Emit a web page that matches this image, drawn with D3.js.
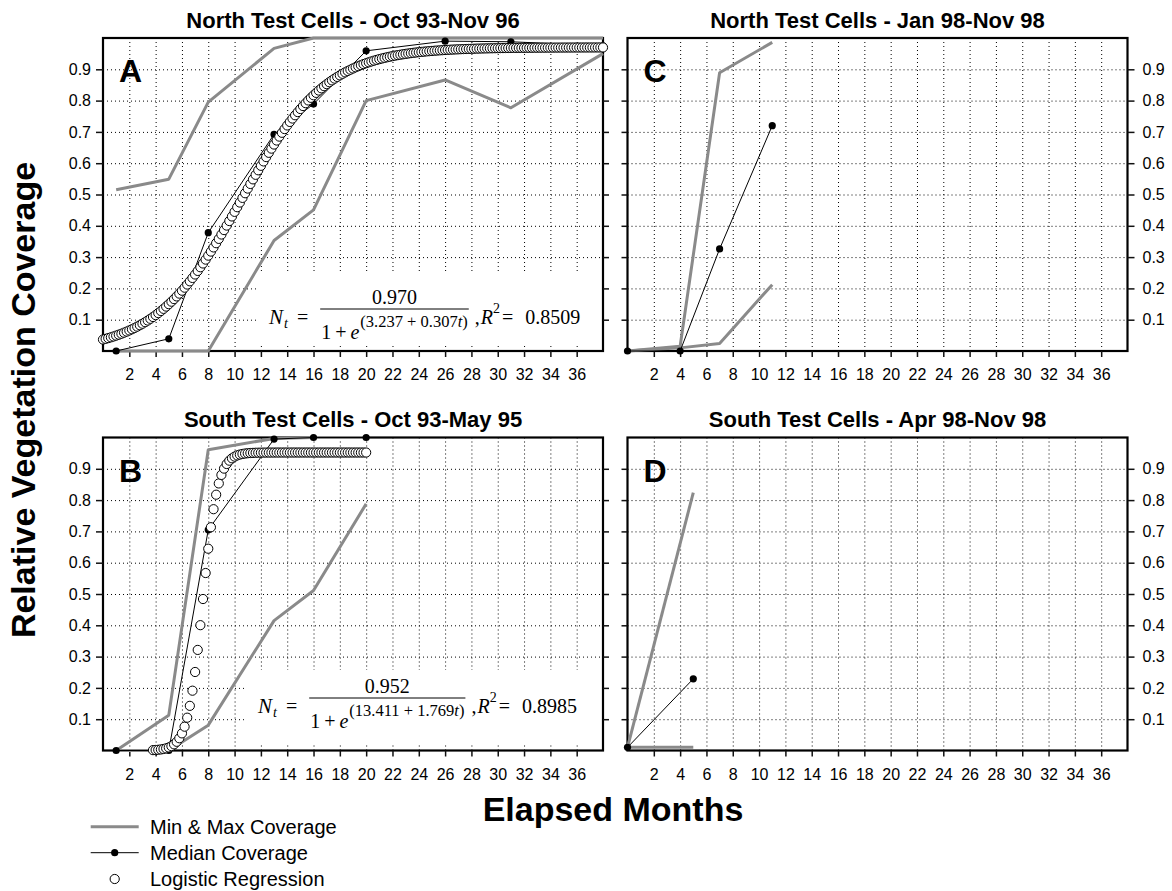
<!DOCTYPE html>
<html>
<head>
<meta charset="utf-8">
<script src="https://cdn.jsdelivr.net/npm/d3@7"></script>
<style>
  html, body { margin: 0; padding: 0; background: #fff; }
  svg { display: block; }
</style>
</head>
<body>
<svg id="chart" width="1172" height="891"></svg>
<script>
// ---------------------------------------------------------------
// Data
// ---------------------------------------------------------------
const monthTicks = [2, 4, 6, 8, 10, 12, 14, 16, 18, 20, 22, 24, 26, 28, 30, 32, 34, 36];
const coverageTicks = [0.1, 0.2, 0.3, 0.4, 0.5, 0.6, 0.7, 0.8, 0.9];
const monthDomain = [0, 38];

// A: North test cells, Oct 93 - Nov 96
const northEarlyMonths = [1, 5, 8, 13, 16, 20, 26, 31, 38];
const northEarlyMin    = [0, 0, 0, 0.353, 0.451, 0.80, 0.866, 0.777, 0.95];
const northEarlyMax    = [0.515, 0.549, 0.795, 0.967, 1.0, 1.0, 1.0, 1.0, 1.0];
const northEarlyMedian = [0, 0.039, 0.378, 0.692, 0.789, 0.959, 0.99, 0.988, 0.975];

// B: South test cells, Oct 93 - May 95
const southEarlyMonths = [1, 5, 8, 13, 16, 20];
const southEarlyMin    = [0, 0, 0.081, 0.415, 0.511, 0.788];
const southEarlyMax    = [0, 0.113, 0.961, 0.997, 1.0, 1.0];
const southEarlyMedian = [0, 0, 0.705, 0.995, 1.0, 1.0];

// C: North test cells, Jan 98 - Nov 98
const northLateMonths = [0, 4, 7, 11];
const northLateMin    = [0, 0.01, 0.024, 0.212];
const northLateMax    = [0, 0.015, 0.889, 0.986];
const northLateMedian = [0, 0, 0.326, 0.72];

// D: South test cells, Apr 98 - Nov 98
const southLateMonths = [0, 5];
const southLateMin    = [0.01, 0.01];
const southLateMax    = [0.01, 0.824];
const southLateMedian = [0.01, 0.229];

// Logistic fits  N_t = K / (1 + e^(a - b t)), printed as in the source paper
const northFitCoef  = ["0.970", "3.237", "0.307"];   // K, a, b
const northFitR2    = "0.8509";
const northFitRange = [0, 38];
const southFitCoef  = ["0.952", "13.411", "1.769"];
const southFitR2    = "0.8985";
const southFitRange = [3.8, 20];
const fitStep = 0.2;

// ---------------------------------------------------------------
// Styling / layout
// ---------------------------------------------------------------
const SANS  = "'Liberation Sans', Arial, Helvetica, sans-serif";
const SERIF = "'Liberation Serif', 'Times New Roman', Times, serif";
const GREY  = "#8a8a8a";
const PW = 500, PH = 313;

const panels = [
  { letter: "A", title: "North Test Cells - Oct 93-Nov 96", left: 103,   top: 38,
    months: northEarlyMonths, min: northEarlyMin, max: northEarlyMax, median: northEarlyMedian,
    fit: { coef: northFitCoef, r2: northFitR2, range: northFitRange,
           box: [155, 234, 305], at: [166, 286] }, labels: "left" },
  { letter: "C", title: "North Test Cells - Jan 98-Nov 98", left: 627.5, top: 38,
    months: northLateMonths, min: northLateMin, max: northLateMax, median: northLateMedian,
    fit: null, labels: "right" },
  { letter: "B", title: "South Test Cells - Oct 93-May 95", left: 103,   top: 437.5,
    months: southEarlyMonths, min: southEarlyMin, max: southEarlyMax, median: southEarlyMedian,
    fit: { coef: southFitCoef, r2: southFitR2, range: southFitRange,
           box: [141, 232.5, 307.5], at: [155, 275.5] }, labels: "left" },
  { letter: "D", title: "South Test Cells - Apr 98-Nov 98", left: 627.5, top: 437.5,
    months: southLateMonths, min: southLateMin, max: southLateMax, median: southLateMedian,
    fit: null, labels: "right" }
];

const svg = d3.select("#chart");
svg.append("rect").attr("width", 1172).attr("height", 891).attr("fill", "#fff");

function addAxis(g, axis, tx, ty, style) {
  const a = g.append("g").attr("transform", `translate(${tx},${ty})`).call(axis);
  a.select(".domain").remove();
  a.selectAll("line")
    .attr("stroke", style.color)
    .attr("stroke-width", style.width)
    .attr("stroke-dasharray", style.dash || null);
  a.selectAll("text")
    .attr("font-family", SANS)
    .attr("font-size", 16)
    .attr("fill", "#000");
  return a;
}

// appends a positioned tspan and returns its advance width
function span(t, str, px, py, size, italic) {
  const s = t.append("tspan")
    .attr("x", px).attr("y", py)
    .attr("font-size", size)
    .attr("font-style", italic ? "italic" : "normal")
    .text(str);
  return s.node().getComputedTextLength();
}

// Typesets  N_t = K / (1 + e^(a + bt)) ,R^2 = r2
function drawFormula(g, x0, b, coef, r2) {
  const f = g.append("g").attr("font-family", SERIF).attr("fill", "#000");

  const lhs = f.append("text");
  let cx = x0;
  cx += span(lhs, "N", cx, b, 21, true) + 1;
  cx += span(lhs, "t", cx, b + 4, 14, true) + 9;
  cx += span(lhs, "=", cx, b, 20, false) + 12;

  // denominator: 1 + e^(a + b t)
  const barX = cx;
  const den = f.append("text");
  let dx = barX + 1;
  dx += span(den, "1", dx, b + 15, 20, false) + 4;
  dx += span(den, "+", dx, b + 15, 20, false) + 4;
  dx += span(den, "e", dx, b + 15, 20, true) + 1;
  dx += span(den, `(${coef[1]} + ${coef[2]}`, dx, b + 3, 16.5, false);
  dx += span(den, "t", dx, b + 3, 16.5, true);
  dx += span(den, ")", dx, b + 3, 16.5, false);
  const barEnd = dx + 1;

  f.append("text")
    .attr("x", (barX + barEnd) / 2).attr("y", b - 20)
    .attr("text-anchor", "middle").attr("font-size", 20)
    .text(coef[0]);
  f.append("line")
    .attr("x1", barX).attr("x2", barEnd)
    .attr("y1", b - 15).attr("y2", b - 15)
    .attr("stroke", "#000").attr("stroke-width", 1);

  // ,R^2 = value
  const rhs = f.append("text");
  cx = barEnd + 6;
  cx += span(rhs, ",", cx, b, 20, false) + 1;
  cx += span(rhs, "R", cx, b, 20, true);
  cx += span(rhs, "2", cx, b - 11, 14, false) + 2;
  cx += span(rhs, "=", cx, b, 20, false) + 12;
  span(rhs, r2, cx, b, 20, false);
}

panels.forEach(p => {
  const g = svg.append("g").attr("transform", `translate(${p.left},${p.top})`);
  const x = d3.scaleLinear().domain(monthDomain).range([0, PW]);
  const y = d3.scaleLinear().domain([0, 1]).range([PH, 0]);

  // dotted grid
  const dotted = { color: "#000", width: 1, dash: "1,3" };
  addAxis(g, d3.axisBottom(x).tickValues(monthTicks).tickSize(PH).tickFormat(""), 0, 0, dotted);
  addAxis(g, d3.axisRight(y).tickValues(coverageTicks).tickSize(PW).tickFormat(""), 0, 0, dotted);

  // white panel behind the regression equation
  if (p.fit) {
    g.append("rect")
      .attr("x", p.fit.box[0]).attr("y", p.fit.box[1])
      .attr("width", PW - p.fit.box[0]).attr("height", p.fit.box[2] - p.fit.box[1])
      .attr("fill", "#fff");
  }

  // frame
  g.append("rect").attr("width", PW).attr("height", PH)
    .attr("fill", "none").attr("stroke", "#000").attr("stroke-width", 2.2);

  // ticks and labels
  const tickStyle = { color: "#111", width: 1.5 };
  const fmt = d3.format(".1f");
  addAxis(g, d3.axisBottom(x).tickValues(monthTicks).tickSize(6).tickPadding(12), 0, PH, tickStyle);
  if (p.labels === "left") {
    addAxis(g, d3.axisLeft(y).tickValues(coverageTicks).tickSize(7).tickPadding(5).tickFormat(fmt), 0, 0, tickStyle);
    addAxis(g, d3.axisRight(y).tickValues(coverageTicks).tickSize(6).tickFormat(""), PW, 0, tickStyle);
  } else {
    addAxis(g, d3.axisLeft(y).tickValues(coverageTicks).tickSize(6).tickFormat(""), 0, 0, tickStyle);
    addAxis(g, d3.axisRight(y).tickValues(coverageTicks).tickSize(7).tickPadding(8).tickFormat(fmt), PW, 0, tickStyle);
  }

  const line = d3.line().x(d => x(d[0])).y(d => y(d[1]));

  // minimum and maximum coverage
  [p.min, p.max].forEach(vals => {
    g.append("path").datum(d3.zip(p.months, vals))
      .attr("d", line).attr("fill", "none")
      .attr("stroke", GREY).attr("stroke-width", 3).attr("stroke-linejoin", "round");
  });

  // median coverage
  const med = d3.zip(p.months, p.median);
  g.append("path").datum(med).attr("d", line)
    .attr("fill", "none").attr("stroke", "#000").attr("stroke-width", 1);
  g.selectAll("circle.median").data(med).join("circle")
    .attr("class", "median")
    .attr("cx", d => x(d[0])).attr("cy", d => y(d[1])).attr("r", 3.6)
    .attr("fill", "#000");

  // logistic regression curve
  if (p.fit) {
    const K = +p.fit.coef[0], a = +p.fit.coef[1], b = +p.fit.coef[2];
    const [t0, t1] = p.fit.range;
    const n = Math.round((t1 - t0) / fitStep) + 1;
    const pts = d3.range(n).map(i => {
      const t = t0 + i * fitStep;
      return [t, K / (1 + Math.exp(a - b * t))];
    });
    g.selectAll("circle.fit").data(pts).join("circle")
      .attr("class", "fit")
      .attr("cx", d => x(d[0])).attr("cy", d => y(d[1])).attr("r", 4.6)
      .attr("fill", "#fff").attr("stroke", "#000").attr("stroke-width", 1);

    drawFormula(g, p.fit.at[0], p.fit.at[1], p.fit.coef, p.fit.r2);
  }

  // panel letter and title
  g.append("text").attr("x", 16).attr("y", 44)
    .attr("font-family", SANS).attr("font-weight", "bold").attr("font-size", 32)
    .text(p.letter);
  g.append("text").attr("x", PW / 2).attr("y", -10.5)
    .attr("text-anchor", "middle")
    .attr("font-family", SANS).attr("font-weight", "bold").attr("font-size", 22)
    .text(p.title);
});

// shared axis titles
svg.append("text")
  .attr("transform", "translate(35,400) rotate(-90)")
  .attr("text-anchor", "middle")
  .attr("font-family", SANS).attr("font-weight", "bold").attr("font-size", 34)
  .text("Relative Vegetation Coverage");
svg.append("text")
  .attr("x", 613).attr("y", 821)
  .attr("text-anchor", "middle")
  .attr("font-family", SANS).attr("font-weight", "bold").attr("font-size", 34)
  .text("Elapsed Months");

// legend
const legendItems = ["Min & Max Coverage", "Median Coverage", "Logistic Regression"];
const legendRows = [826.7, 852.7, 879];
const lg = svg.append("g");
legendItems.forEach((label, i) => {
  const ly = legendRows[i];
  if (i === 0) {
    lg.append("line").attr("x1", 90.7).attr("x2", 138.7).attr("y1", ly).attr("y2", ly)
      .attr("stroke", GREY).attr("stroke-width", 3);
  } else if (i === 1) {
    lg.append("line").attr("x1", 90.7).attr("x2", 138.7).attr("y1", ly).attr("y2", ly)
      .attr("stroke", "#000").attr("stroke-width", 1);
    lg.append("circle").attr("cx", 114.7).attr("cy", ly).attr("r", 3.6).attr("fill", "#000");
  } else {
    lg.append("circle").attr("cx", 114.7).attr("cy", ly).attr("r", 4.6)
      .attr("fill", "#fff").attr("stroke", "#000").attr("stroke-width", 1);
  }
  lg.append("text").attr("x", 150).attr("y", ly + 7)
    .attr("font-family", SANS).attr("font-size", 20).text(label);
});
</script>
</body>
</html>
